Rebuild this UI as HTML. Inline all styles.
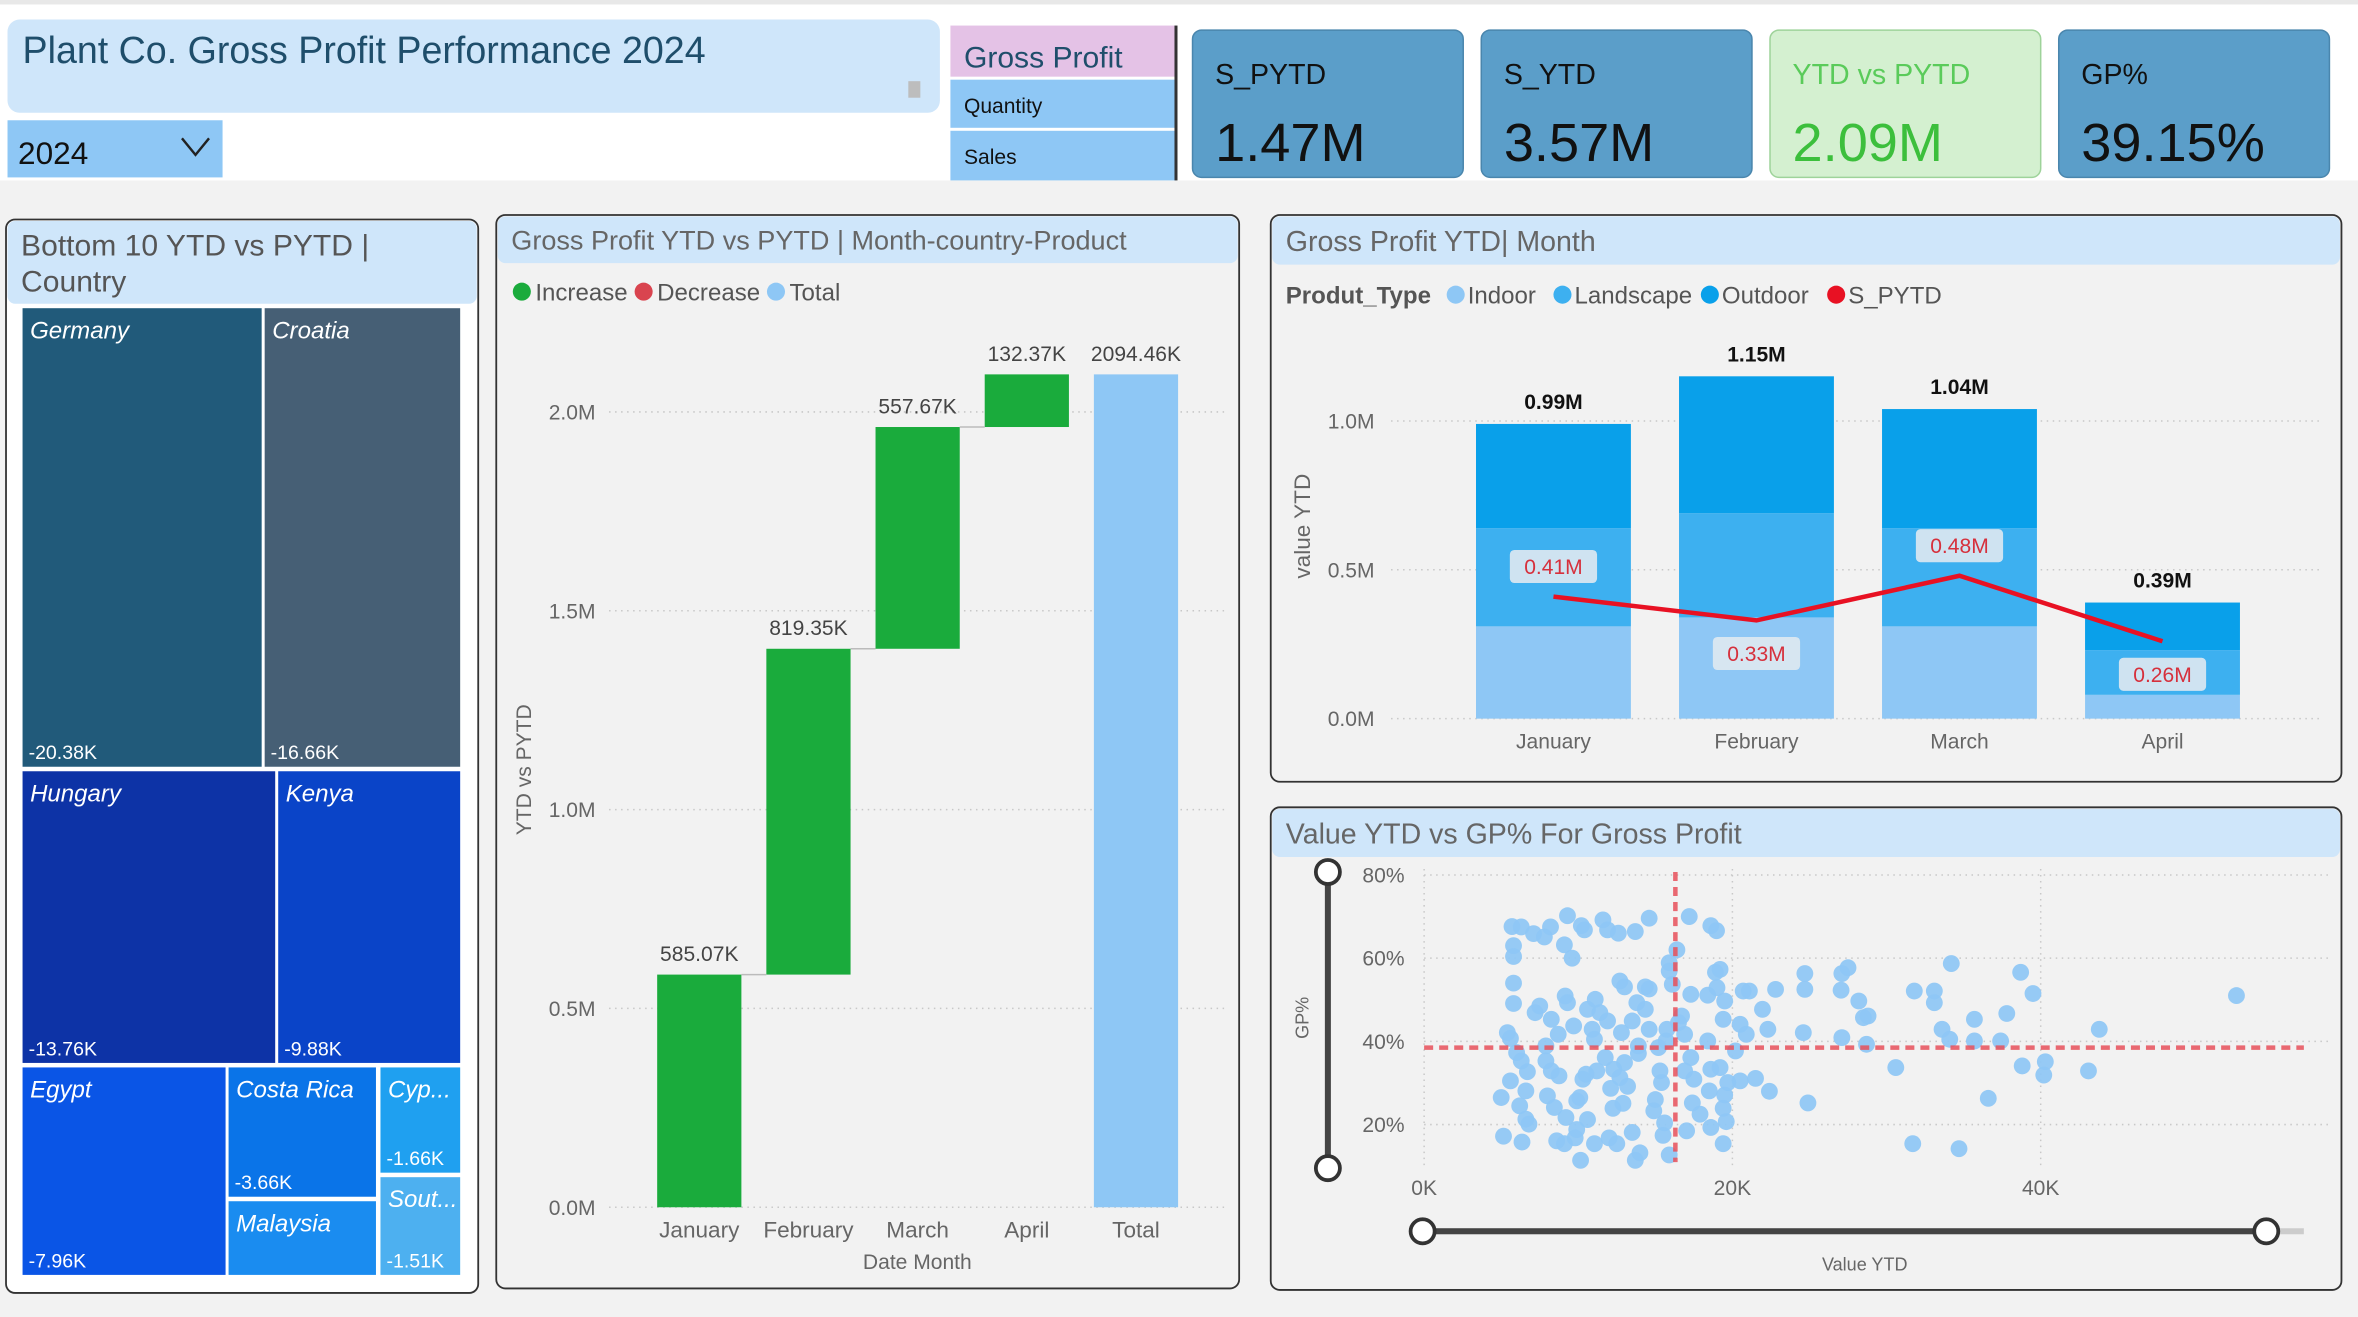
<!DOCTYPE html>
<html><head><meta charset="utf-8"><style>
html,body{margin:0;padding:0;background:#f2f2f2;overflow:hidden}
svg{display:block}
text{font-family:"Liberation Sans Narrow","Liberation Sans",sans-serif}
</style></head><body>
<svg id="main" width="2358" height="1317" viewBox="0 0 1568 876" preserveAspectRatio="none" xmlns="http://www.w3.org/2000/svg">
<rect x="0" y="0" width="1568" height="876" fill="#f2f2f2"/>
<rect x="0" y="0" width="1568" height="120" fill="#ffffff"/>
<rect x="0" y="0" width="1568" height="3" fill="#e8e8e8"/>
<g>
<rect x="5" y="13" width="620" height="62" rx="8" fill="#cfe6fa"/>
<text x="15" y="42" font-size="25" fill="#1f4e6b">Plant Co. Gross Profit Performance 2024</text>
<rect x="604" y="54" width="8" height="11" fill="#bdbdbd"/>
</g>
<g>
<rect x="5" y="80" width="143" height="38" fill="#8ec7f5"/>
<text x="12" y="109" font-size="21" fill="#111">2024</text>
<path d="M121 92 L130 103 L139 92" fill="none" stroke="#222" stroke-width="1.6"/>
</g>
<g>
<rect x="632" y="17" width="150" height="34" fill="#e4c2e6"/>
<text x="641" y="45" font-size="20" fill="#1f4e6b">Gross Profit</text>
<rect x="632" y="53" width="150" height="32" fill="#8ec7f5"/>
<text x="641" y="75" font-size="14" fill="#111">Quantity</text>
<rect x="632" y="87" width="150" height="33" fill="#8ec7f5"/>
<text x="641" y="109" font-size="14" fill="#111">Sales</text>
<rect x="781" y="17" width="2" height="103" fill="#333"/>
</g>
<g id="kpis"></g>
<g>
<rect x="4" y="146" width="314" height="714" rx="6" fill="#ffffff" stroke="#333" stroke-width="1.2"/>
<rect x="5" y="147" width="312" height="55" rx="5" fill="#cfe6fa"/>
<text x="14" y="170" font-size="20" fill="#555">Bottom 10 YTD vs PYTD |</text>
<text x="14" y="194" font-size="20" fill="#555">Country</text>
<g id="treemap"></g>
</g>
<g>
<rect x="330" y="143" width="494" height="714" rx="6" fill="#f2f2f2" stroke="#333" stroke-width="1.2"/>
<rect x="331" y="144" width="492" height="31" rx="5" fill="#cfe6fa"/>
<text x="340" y="166" font-size="18" fill="#666">Gross Profit YTD vs PYTD | Month-country-Product</text>
<g id="waterfall"></g>
</g>
<g>
<rect x="845" y="143" width="712" height="377" rx="6" fill="#f2f2f2" stroke="#333" stroke-width="1.2"/>
<rect x="846" y="144" width="710" height="32" rx="5" fill="#cfe6fa"/>
<text x="855" y="167" font-size="19" fill="#666">Gross Profit YTD| Month</text>
<g id="stacked"></g>
</g>
<g>
<rect x="845" y="537" width="712" height="321" rx="6" fill="#f2f2f2" stroke="#333" stroke-width="1.2"/>
<rect x="846" y="538" width="710" height="32" rx="5" fill="#cfe6fa"/>
<text x="855" y="561" font-size="19" fill="#666">Value YTD vs GP% For Gross Profit</text>
<g id="scatter"></g>
</g>
</svg>
<script>
const NS="http://www.w3.org/2000/svg";
function mk(parent,tag,attrs,txt){const e=document.createElementNS(NS,tag);for(const k in attrs)e.setAttribute(k,attrs[k]);if(txt!==undefined)e.textContent=txt;parent.appendChild(e);return e;}

const kpiLabels=["S_PYTD","S_YTD","YTD vs PYTD","GP%"];
const kpiValues=["1.47M","3.57M","2.09M","39.15%"];
const kg=document.getElementById('kpis');
kpiLabels.forEach((l,i)=>{
  const x=793+i*192;const green=i===2;
  const g=mk(kg,'g',{});
  
  
  mk(g,'rect',{x:x,y:20,width:180,height:98,rx:6,fill:green?'#d4f0d0':'#5b9ec9',stroke:green?'#9ed39a':'#4a86ad'});
  mk(g,'text',{x:x+15,y:56,'font-size':19,fill:green?'#5acb5a':'#111'},l);
  mk(g,'text',{x:x+15,y:107,'font-size':36,fill:green?'#3cbf3c':'#111'},kpiValues[i]);
});

const tmCountries=["Germany","Croatia","Hungary","Kenya","Egypt","Costa Rica","Malaysia","Cyp...","Sout..."];
const tmValues=["-20.38K","-16.66K","-13.76K","-9.88K","-7.96K","-3.66K","","-1.66K","-1.51K"];
const tmColors=["#215a7a","#465f75","#0d33a6","#0a44c8","#0a55e6","#0a74e8","#1a8cf0","#1fa0f0","#4db0f0"];
const tmRects=[[15,205,159,305],[176,205,130,305],[15,513,168,194],[185,513,121,194],[15,710,135,138],[152,710,98,86],[152,799,98,49],[253,710,53,70],[253,783,53,65]];
const tg=document.getElementById('treemap');
tmCountries.forEach((c,i)=>{
  const [x,y,w,h]=tmRects[i];
  const g=mk(tg,'g',{});
  
  
  mk(g,'rect',{x:x,y:y,width:w,height:h,fill:tmColors[i]});
  mk(g,'text',{x:x+5,y:y+20,'font-size':16,'font-style':'italic',fill:'#fff'},c);
  if(tmValues[i])mk(g,'text',{x:x+4,y:y+h-5,'font-size':13,fill:'#fff'},tmValues[i]);
});

const wfCats=["January","February","March","April","Total"];
const wfVals=[585.07,819.35,557.67,132.37];
const wfLabels=["585.07K","819.35K","557.67K","132.37K","2094.46K"];
const wfTicks=[0,0.5,1.0,1.5,2.0];
const wfTickLabels=["0.0M","0.5M","1.0M","1.5M","2.0M"];
(function(){
  const g=document.getElementById('waterfall');
  const y0=803,pxM=264.5;const yS=v=>y0-v*pxM;const xS=i=>465+i*72.6;const bw=56;
  [["Increase","#1aab3c"],["Decrease","#d9444f"],["Total","#8ec7f5"]].forEach((d,i)=>{
    const lx=[347,428,516][i];
    const lg=mk(g,'g',{});
    
    
    mk(lg,'circle',{cx:lx,cy:194,r:6,fill:d[1]});
    mk(lg,'text',{x:lx+9,y:200,'font-size':16,fill:'#555'},d[0]);
  });
  wfTicks.forEach((t,i)=>{
    mk(g,'line',{x1:405,x2:815,y1:yS(t),y2:yS(t),stroke:'#c8c8c8','stroke-dasharray':'1 3'});
    const tx=mk(g,'text',{x:396,y:yS(t)+5,'font-size':14,fill:'#666','text-anchor':'end'},wfTickLabels[i]);
    
    
  });
  let cum=0;
  wfCats.forEach((c,i)=>{
    let top,bot,col;
    const isTotal=i>=wfVals.length;
    if(!isTotal){bot=cum;cum+=wfVals[i]/1000;top=cum;col='#1aab3c';}
    else{bot=0;top=cum;col='#8ec7f5';}
    const r=mk(g,'rect',{x:xS(i)-bw/2,y:yS(top),width:bw,height:yS(bot)-yS(top),fill:col});
    
    
    if(i>0&&!isTotal)mk(g,'line',{x1:xS(i-1)+bw/2,x2:xS(i)-bw/2,y1:yS(bot),y2:yS(bot),stroke:'#bbb'});
    mk(g,'text',{x:xS(i),y:yS(top)-9,'font-size':14,fill:'#444','text-anchor':'middle'},wfLabels[i]);
    mk(g,'text',{x:xS(i),y:823,'font-size':15,fill:'#666','text-anchor':'middle'},c);
  });
  const xt=mk(g,'text',{x:610,y:844,'font-size':14,fill:'#666','text-anchor':'middle'},'Date Month');
  
  const yt=mk(g,'text',{x:0,y:0,'font-size':14,fill:'#666','text-anchor':'middle',transform:'translate(353,512) rotate(-90)'},'YTD vs PYTD');
  
})();

const stCats=["January","February","March","April"];
const stIndoor=[0.31,0.34,0.31,0.08];
const stLandscape=[0.33,0.35,0.33,0.15];
const stOutdoor=[0.35,0.46,0.40,0.16];
const stTotals=["0.99M","1.15M","1.04M","0.39M"];
const stPYTD=[0.41,0.33,0.48,0.26];
const stPYTDLabels=["0.41M","0.33M","0.48M","0.26M"];
const stTicks=[0,0.5,1.0];
const stTickLabels=["0.0M","0.5M","1.0M"];
(function(){
  const g=document.getElementById('stacked');
  const y0=478,pxM=198;const yS=v=>y0-v*pxM;const xS=i=>1033+i*135;const bw=103;
  mk(g,'text',{x:855,y:202,'font-size':16,'font-weight':'bold',fill:'#555'},'Produt_Type');
  [["Indoor","#8ec7f5",968],["Landscape","#3db0f0",1039],["Outdoor","#09a0ea",1137],["S_PYTD","#e81123",1221]].forEach(d=>{
    const lg=mk(g,'g',{});
    
    
    mk(lg,'circle',{cx:d[2],cy:196,r:6,fill:d[1]});
    mk(lg,'text',{x:d[2]+8,y:202,'font-size':16,fill:'#555'},d[0]);
  });
  stTicks.forEach((t,i)=>{
    mk(g,'line',{x1:925,x2:1545,y1:yS(t),y2:yS(t),stroke:'#c8c8c8','stroke-dasharray':'1 3'});
    mk(g,'text',{x:914,y:yS(t)+5,'font-size':14,fill:'#666','text-anchor':'end'},stTickLabels[i]);
  });
  mk(g,'text',{x:0,y:0,'font-size':15,fill:'#666','text-anchor':'middle',transform:'translate(871,350) rotate(-90)'},'value YTD');
  stCats.forEach((c,i)=>{
    let b=0;
    [[stIndoor,'#8ec7f5','indoor'],[stLandscape,'#3db0f0','landscape'],[stOutdoor,'#09a0ea','outdoor']].forEach(s=>{
      const v=s[0][i];
      const r=mk(g,'rect',{x:xS(i)-bw/2,y:yS(b+v),width:bw,height:v*pxM,fill:s[1]});
      
      
      b+=v;
    });
    mk(g,'text',{x:xS(i),y:yS(b)-10,'font-size':14,'font-weight':'bold',fill:'#111','text-anchor':'middle',style:'font-family:"Liberation Sans",sans-serif'},stTotals[i]);
    mk(g,'text',{x:xS(i),y:498,'font-size':14,fill:'#666','text-anchor':'middle'},c);
  });
  const pts=stPYTD.map((v,i)=>xS(i)+','+yS(v)).join(' ');
  const pl=mk(g,'polyline',{points:pts,fill:'none',stroke:'#e81123','stroke-width':3});
  
  
  stPYTD.forEach((v,i)=>{
    const off=(i===1||i===3)?22:-20;
    const cy=yS(v)+off;
    mk(g,'rect',{x:xS(i)-29,y:cy-11,width:58,height:22,rx:3,fill:'#dfe9f1',opacity:0.9});
    mk(g,'text',{x:xS(i),y:cy+5,'font-size':14,fill:'#d6303c','text-anchor':'middle'},stPYTDLabels[i]);
  });
})();

const scX=[5.7,6.3,7.1,7.8,8.2,9.3,10.2,10.4,11.6,11.9,12.6,13.7,14.6,17.2,18.6,18.97,5.8,5.8,9.1,9.6,16.4,15.9,15.9,18.9,19.2,5.8,5.8,9.15,9.3,12.7,13.0,14.35,14.6,16.1,17.3,18.4,19,19.5,20.7,21.1,22.8,24.7,24.7,27.1,27.5,27.05,28.2,28.5,28.8,31.8,33.1,33.1,34.2,38.7,39.5,52.7,33.6,34.1,35.7,35.7,37.4,37.8,43.8,38.8,40.3,40.2,43.1,30.6,36.6,24.9,31.7,34.7,24.6,27.1,28.7,22.3,21.95,20.5,20.9,20.2,20.5,21.5,22.4,19.4,18.4,16.7,16.9,17.3,15.3,15.4,16.9,17.5,18.6,19.2,18.5,19.5,19.7,19.4,19.6,18.6,17.4,17.9,15.0,14.9,15.6,15.5,17.03,15.9,19.4,13.5,14.0,13.7,12.5,12.0,11.05,10.15,9.8,9.1,8.6,6.35,5.15,5.0,5.6,6.2,6.6,6.8,6.6,6.7,6.3,6.0,5.4,5.6,7.9,8.7,8.25,7.2,7.5,9.7,10.6,11.1,11.4,10.9,11.05,11.9,11.75,12.8,13.5,13.8,14.35,14.6,13.9,13.9,13.0,12.3,11.2,10.3,10.5,12.7,13.2,12.1,7.9,8.25,8.75,8.0,8.45,9.2,9.9,10.1,10.6,9.9,12.25,12.9,15.7,16.5,15.75,15.2];
const scY=[67.6,67.5,65.9,65.1,67.5,70.2,67.8,66.8,69.2,66.8,66,66.4,69.6,70,67.8,66.6,63,60.4,63.2,60,62,58.9,56.9,56.6,57.3,54,49.1,50.9,49.3,54.5,53.1,53.1,52.6,53.7,51.3,51.1,52.9,49.7,52.1,52.1,52.5,56.3,52.5,56.3,57.7,52.3,49.7,45.7,46.1,52.1,52.1,49.3,58.7,56.6,51.5,51,42.9,40.5,45.3,40.1,40.1,46.7,42.9,34.1,35.1,31.9,32.9,33.7,26.3,25.2,15.4,14.2,42.1,40.9,39.3,42.9,47.7,44.1,41.7,37.7,30.5,31.1,28,45.3,40.1,46.1,41.7,36.1,32.9,30.1,32.9,30.9,33.3,33.7,28.1,27.1,30.1,23.9,20.7,19.3,25.2,22.5,26,23.3,20.4,17.4,18.5,12.7,15.4,18.1,13.2,11.4,15.4,16.8,15.4,11.4,16.8,15.4,16.1,15.8,17.2,26.5,30.5,24.5,21.3,20.1,28.1,32.7,35.3,37.3,42.1,40.7,38.9,41.7,45.3,46.9,48.5,43.7,47.7,50.1,46.9,42.9,40.5,44.9,36.1,42.1,44.9,49.3,47.7,42.9,38.9,37.1,34.9,33.3,32.9,30.9,32.1,31.3,29.2,28.7,35.3,32.9,31.7,26.9,24.1,21.7,25.7,26.5,21.2,18.8,23.9,25.1,40.1,44.5,42.9,38.5];
const scXTicks=[0,20,40];
const scXTickLabels=["0K","20K","40K"];
const scYTicks=[20,40,60,80];
const scYTickLabels=["20%","40%","60%","80%"];
const scAvgX=16.3, scAvgY=38.5;
(function(){
  const g=document.getElementById('scatter');
  const xS=v=>947+v*10.25;const yS=v=>748-(v-20)*2.767;
  scYTicks.forEach((t,i)=>{
    mk(g,'line',{x1:947,x2:1550,y1:yS(t),y2:yS(t),stroke:'#c8c8c8','stroke-dasharray':'1 3'});
    mk(g,'text',{x:934,y:yS(t)+5,'font-size':14,fill:'#666','text-anchor':'end'},scYTickLabels[i]);
  });
  scXTicks.forEach((t,i)=>{
    mk(g,'line',{x1:xS(t),x2:xS(t),y1:578,y2:775,stroke:'#c8c8c8','stroke-dasharray':'1 3'});
    mk(g,'text',{x:xS(t),y:795,'font-size':14,fill:'#666','text-anchor':'middle'},scXTickLabels[i]);
  });
  scX.forEach((v,i)=>{
    const c=mk(g,'circle',{cx:xS(v),cy:yS(scY[i]),r:5.6,fill:'#8ec7f5',opacity:0.92});
    
    
  });
  const ax=mk(g,'line',{x1:xS(scAvgX),x2:xS(scAvgX),y1:580,y2:773,stroke:'#e8505b','stroke-width':3,'stroke-dasharray':'6 4',opacity:0.85});
  
  const ay=mk(g,'line',{x1:947,x2:1532,y1:yS(scAvgY),y2:yS(scAvgY),stroke:'#e8505b','stroke-width':3,'stroke-dasharray':'6 4',opacity:0.85});
  
  const vs=mk(g,'g',{});
  mk(vs,'line',{x1:883,x2:883,y1:580,y2:777,stroke:'#444','stroke-width':4});
  mk(vs,'circle',{cx:883,cy:580,r:8,fill:'#fff',stroke:'#333','stroke-width':2.5});
  mk(vs,'circle',{cx:883,cy:777,r:8,fill:'#fff',stroke:'#333','stroke-width':2.5});
  const hs=mk(g,'g',{});
  mk(hs,'line',{x1:946,x2:1532,y1:819,y2:819,stroke:'#ccc','stroke-width':4});
  mk(hs,'line',{x1:946,x2:1507,y1:819,y2:819,stroke:'#444','stroke-width':4});
  mk(hs,'circle',{cx:946,cy:819,r:8,fill:'#fff',stroke:'#333','stroke-width':2.5});
  mk(hs,'circle',{cx:1507,cy:819,r:8,fill:'#fff',stroke:'#333','stroke-width':2.5});
  const xt=mk(g,'text',{x:1240,y:845,'font-size':12,fill:'#666','text-anchor':'middle'},'Value YTD');
  
  const yt=mk(g,'text',{x:0,y:0,'font-size':12,fill:'#666','text-anchor':'middle',transform:'translate(870,677) rotate(-90)'},'GP%');
  
})();
</script>
</body></html>
